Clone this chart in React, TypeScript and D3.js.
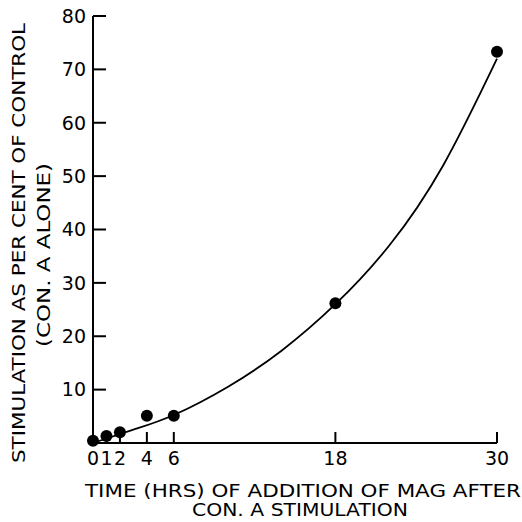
import React from "react";
import * as d3 from "d3";

const hours = [0, 1, 2, 4, 6, 18, 30];
const stimulation = [0.4, 1.3, 2.0, 5.1, 5.1, 26.2, 73.3];
const curveHours = [0, 3, 6, 10, 14, 18, 22, 26, 30];
const curveValues = [0, 2.5, 5.25, 10.5, 17.3, 26, 37, 52, 72];
const xTickValues = [0, 1, 2, 4, 6, 18, 30];
const yTickValues = [10, 20, 30, 40, 50, 60, 70, 80];

const yLabel1 = "STIMULATION AS PER CENT OF CONTROL";
const yLabel2 = "(CON. A ALONE)";
const xLabel1 = "TIME (HRS) OF ADDITION OF MAG AFTER";
const xLabel2 = "CON. A STIMULATION";

export default function App() {
  const x = d3.scaleLinear().domain([0, 30]).range([93, 497]);
  const y = d3.scaleLinear().domain([0, 80]).range([443, 16]);
  const line = d3
    .line<number>()
    .x((_, i) => x(curveHours[i]))
    .y((d) => y(d))
    .curve(d3.curveNatural);
  const font = "'DejaVu Sans', 'Liberation Sans', Arial, sans-serif";
  return (
    <svg
      width={522}
      height={522}
      style={{ position: "absolute", left: 0, top: 0, background: "#fff" }}
      fontFamily={font}
    >
      <rect x={0} y={0} width={522} height={522} fill="#fff" />
      <line x1={x(0)} x2={x(0)} y1={y(80)} y2={y(0)} stroke="#000" strokeWidth={2} />
      <line x1={x(0)} x2={x(30)} y1={y(0)} y2={y(0)} stroke="#000" strokeWidth={2} />
      {yTickValues.map((v) => (
        <g key={v}>
          <line x1={x(0)} x2={x(0) + 13} y1={y(v)} y2={y(v)} stroke="#000" strokeWidth={2} />
          <text x={86} y={y(v)} dy="0.36em" textAnchor="end" fontSize={19}>
            {v}
          </text>
        </g>
      ))}
      {xTickValues.map((v) => (
        <g key={v}>
          <line x1={x(v)} x2={x(v)} y1={y(0)} y2={y(0) - 11} stroke="#000" strokeWidth={2} />
          <text x={x(v)} y={465} textAnchor="middle" fontSize={19}>
            {v}
          </text>
        </g>
      ))}
      <path d={line(curveValues) || ""} fill="none" stroke="#000" strokeWidth={1.8} />
      {hours.map((h, i) => (
        <circle key={h} cx={x(h)} cy={y(stimulation[i])} r={6} fill="#000" />
      ))}
      <text
        transform="translate(25,243) rotate(-90)"
        textAnchor="middle"
        fontSize={18}
        textLength={440}
        lengthAdjust="spacingAndGlyphs"
      >
        {yLabel1}
      </text>
      <text
        transform="translate(50,255) rotate(-90)"
        textAnchor="middle"
        fontSize={18}
        textLength={184}
        lengthAdjust="spacingAndGlyphs"
      >
        {yLabel2}
      </text>
      <text
        x={303}
        y={497}
        textAnchor="middle"
        fontSize={18}
        textLength={436}
        lengthAdjust="spacingAndGlyphs"
      >
        {xLabel1}
      </text>
      <text
        x={300}
        y={516}
        textAnchor="middle"
        fontSize={18}
        textLength={216}
        lengthAdjust="spacingAndGlyphs"
      >
        {xLabel2}
      </text>
    </svg>
  );
}
